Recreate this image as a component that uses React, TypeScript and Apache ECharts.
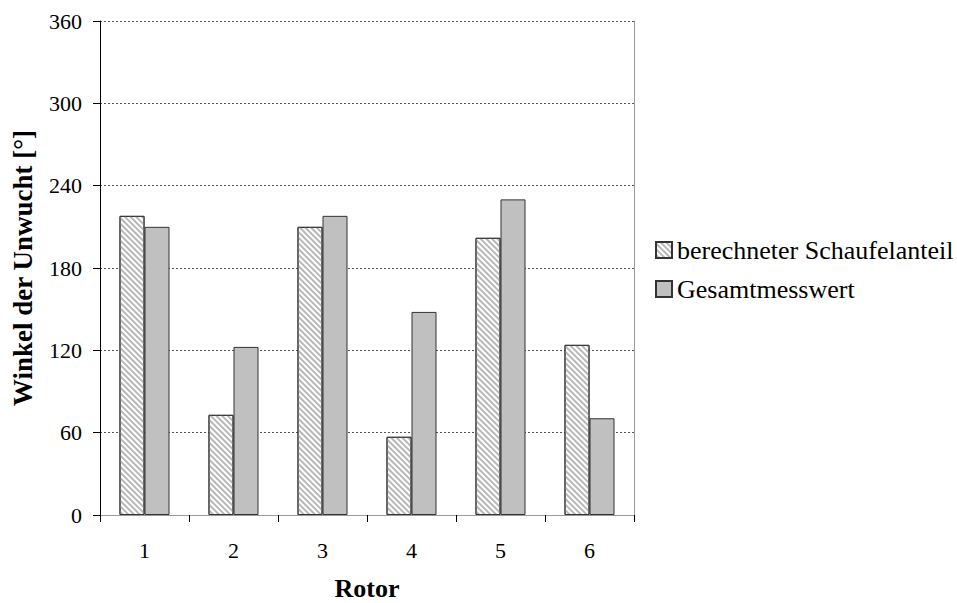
import React, { useEffect, useRef } from "react";
import * as echarts from "echarts";

const categories = ["1", "2", "3", "4", "5", "6"];
const schaufelanteil = [218, 73, 210, 57, 202, 124];
const gesamtmesswert = [210, 122.5, 218, 148, 230, 70.5];
const seriesNames = ["berechneter Schaufelanteil", "Gesamtmesswert"];

const FONT = "'Liberation Serif', 'Times New Roman', serif";

export default function App() {
  const ref = useRef<HTMLDivElement>(null);
  useEffect(() => {
    if (!ref.current) return;
    const chart = echarts.init(ref.current, null, { renderer: "svg" });
    const hatch = {
      color: "#b8b8b8",
      backgroundColor: "#ffffff",
      dashArrayX: [1, 0],
      dashArrayY: [1.2, 2],
      rotation: Math.PI / 4,
      symbolSize: 1,
    };
    chart.setOption({
      animation: false,
      backgroundColor: "#ffffff",
      textStyle: { fontFamily: FONT },
      grid: { left: 100, top: 21, right: 323, bottom: 88, containLabel: false, outerBoundsMode: "none" },
      legend: {
        orient: "vertical",
        left: 650,
        top: 232,
        icon: "rect",
        itemWidth: 16,
        itemHeight: 16,
        itemGap: 13,
        textStyle: { fontFamily: FONT, fontSize: 26, color: "#000" },
        data: seriesNames,
      },
      xAxis: [
        {
          type: "category",
          data: categories,
          name: "Rotor",
          nameLocation: "middle",
          nameGap: 60,
          nameTextStyle: { fontFamily: FONT, fontSize: 26, fontWeight: "bold", color: "#000" },
          axisLine: { show: true, lineStyle: { color: "#000", width: 1 } },
          axisTick: { show: true, alignWithLabel: false, length: 7, lineStyle: { color: "#000" } },
          axisLabel: { fontFamily: FONT, fontSize: 22, color: "#000", margin: 24 },
          splitLine: { show: false },
        },
        {
          type: "category",
          data: categories,
          position: "top",
          axisLine: { show: true, lineStyle: { color: "#9a9a9a", width: 1 } },
          axisTick: { show: false },
          axisLabel: { show: false },
          splitLine: { show: false },
        },
      ],
      yAxis: [
        {
          type: "value",
          min: 0,
          max: 360,
          interval: 60,
          name: "Winkel der Unwucht [°]",
          nameLocation: "middle",
          nameGap: 64,
          nameTextStyle: { fontFamily: FONT, fontSize: 27, fontWeight: "bold", color: "#000" },
          axisLine: { show: true, lineStyle: { color: "#000", width: 1 } },
          axisTick: { show: true, length: 7, lineStyle: { color: "#000" } },
          axisLabel: { fontFamily: FONT, fontSize: 22, color: "#000", margin: 18 },
          splitLine: { show: true, lineStyle: { color: "#555", type: [2, 2], width: 1 } },
        },
        {
          type: "value",
          min: 0,
          max: 360,
          interval: 60,
          position: "right",
          axisLine: { show: true, lineStyle: { color: "#9a9a9a", width: 1 } },
          axisTick: { show: false },
          axisLabel: { show: false },
          splitLine: { show: false },
        },
      ],
      series: [
        {
          name: seriesNames[0],
          type: "bar",
          data: schaufelanteil,
          barWidth: 25,
          barGap: "0%",
          itemStyle: { color: "#ffffff", borderColor: "#333", borderWidth: 1, decal: hatch },
        },
        {
          name: seriesNames[1],
          type: "bar",
          data: gesamtmesswert,
          barWidth: 25,
          barGap: "0%",
          itemStyle: { color: "#c0c0c0", borderColor: "#333", borderWidth: 1 },
        },
      ],
    });
    return () => chart.dispose();
  }, []);
  return <div ref={ref} style={{ width: 957, height: 603, position: "absolute", left: 0, top: 0 }} />;
}
